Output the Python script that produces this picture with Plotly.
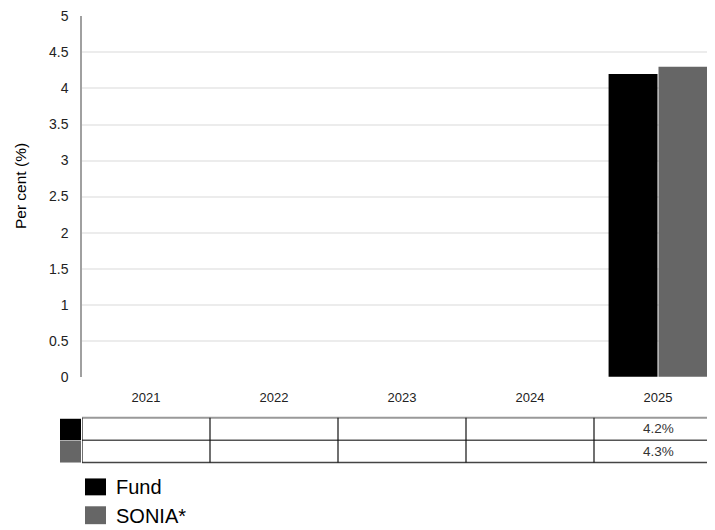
import plotly.graph_objects as go

years = ["2021", "2022", "2023", "2024", "2025"]
series_names = ["Fund", "SONIA*"]
fund_values = [None, None, None, None, 4.2]
sonia_values = [None, None, None, None, 4.3]
colors = ["#000000", "#666666"]
y_ticks = [0, 0.5, 1, 1.5, 2, 2.5, 3, 3.5, 4, 4.5, 5]
y_ticktext = ["0", "0.5", "1", "1.5", "2", "2.5", "3", "3.5", "4", "4.5", "5"]

# the page body has an 8px margin, so the figure starts at screen (8, 8)
OFF = 8
W, H = 715 - OFF, 530 - OFF
PLOT_LEFT, PLOT_TOP, PLOT_BOTTOM = 82, 14, 377  # screen pixels
ML = PLOT_LEFT - OFF
MT = PLOT_TOP - OFF
MB = H - (PLOT_BOTTOM - OFF)
plot_w = W - ML
plot_h = H - MT - MB
CAT_W = 128.0

def py(pix):
    return (PLOT_BOTTOM - pix) / plot_h

def px(pix):
    return (pix - PLOT_LEFT) / plot_w

FAM = "Liberation Sans, Arial, sans-serif"
all_values = [fund_values, sonia_values]

fig = go.Figure()
for name, vals, col in zip(series_names, all_values, colors):
    fig.add_trace(go.Bar(x=years, y=vals, name=name, marker=dict(color=col, line=dict(width=0)),
                         showlegend=False))

shapes = []
annotations = []

row_top = [418, 440.5]
row_bot = [440.5, 463]
n = len(years)
shapes.append(dict(type="line", xref="x", yref="paper", x0=-0.5, x1=n - 0.5,
                   y0=py(418), y1=py(418), line=dict(color="#999999", width=2)))
shapes.append(dict(type="line", xref="x", yref="paper", x0=-0.5, x1=n - 0.5,
                   y0=py(440.5), y1=py(440.5), line=dict(color="#555555", width=1.5)))
shapes.append(dict(type="line", xref="x", yref="paper", x0=-0.5, x1=n - 0.5,
                   y0=py(463), y1=py(463), line=dict(color="#444444", width=1.5)))
for i in range(n):
    shapes.append(dict(type="line", xref="x", yref="paper", x0=i - 0.5, x1=i - 0.5,
                       y0=py(418), y1=py(463), line=dict(color="#111111", width=1.2)))
for r, col in enumerate(colors):
    shapes.append(dict(type="rect", xref="paper", yref="paper", x0=px(60), x1=px(81),
                       y0=py(row_bot[r]), y1=py(row_top[r] + (1 if r == 0 else 0.5)),
                       fillcolor=col, line=dict(width=0)))
for r, vals in enumerate(all_values):
    for i, v in enumerate(vals):
        if v is not None:
            annotations.append(dict(x=i, xref="x", yref="paper",
                                    y=py((row_top[r] + row_bot[r]) / 2), text=f"{v}%",
                                    showarrow=False, xanchor="center", yanchor="middle",
                                    font=dict(family=FAM, size=13.5, color="#333333")))

leg_rows = [(479, 496), (507, 525)]
for (t, b), name, col in zip(leg_rows, series_names, colors):
    shapes.append(dict(type="rect", xref="paper", yref="paper", x0=px(85), x1=px(106),
                       y0=py(b), y1=py(t), fillcolor=col, line=dict(width=0)))
    annotations.append(dict(x=px(114), y=py((t + b) / 2 + 0.5), xref="paper", yref="paper",
                            text=name, showarrow=False, xanchor="left", yanchor="middle",
                            font=dict(family=FAM, size=20, color="#000000")))

annotations.append(dict(x=px(20), y=py(185), xref="paper", yref="paper", text="Per cent (%)",
                        textangle=-90, showarrow=False, xanchor="center", yanchor="middle",
                        font=dict(family=FAM, size=15.5, color="#000000")))

fig.update_layout(
    width=W, height=H,
    margin=dict(l=ML, r=0, t=MT, b=MB, pad=0),
    paper_bgcolor="white", plot_bgcolor="white",
    barmode="group", bargap=0.22, bargroupgap=0.02,
    shapes=shapes, annotations=annotations,
    xaxis=dict(type="category", range=[-0.5, -0.5 + plot_w / CAT_W], showgrid=False,
               showline=False, zeroline=False, ticks="",
               tickfont=dict(family=FAM, size=13, color="#222222"), ticklabelstandoff=11),
    yaxis=dict(range=[-0.004, 5.006], tickvals=y_ticks, ticktext=y_ticktext, showgrid=True,
               gridcolor="#ececec", gridwidth=2, zeroline=False, showline=True,
               linecolor="#a0a0a0", linewidth=1.5, ticks="", ticklabeloverflow="allow",
               tickfont=dict(family=FAM, size=14, color="#222222"), ticklabelstandoff=9),
)

fig.write_html("out.html")
